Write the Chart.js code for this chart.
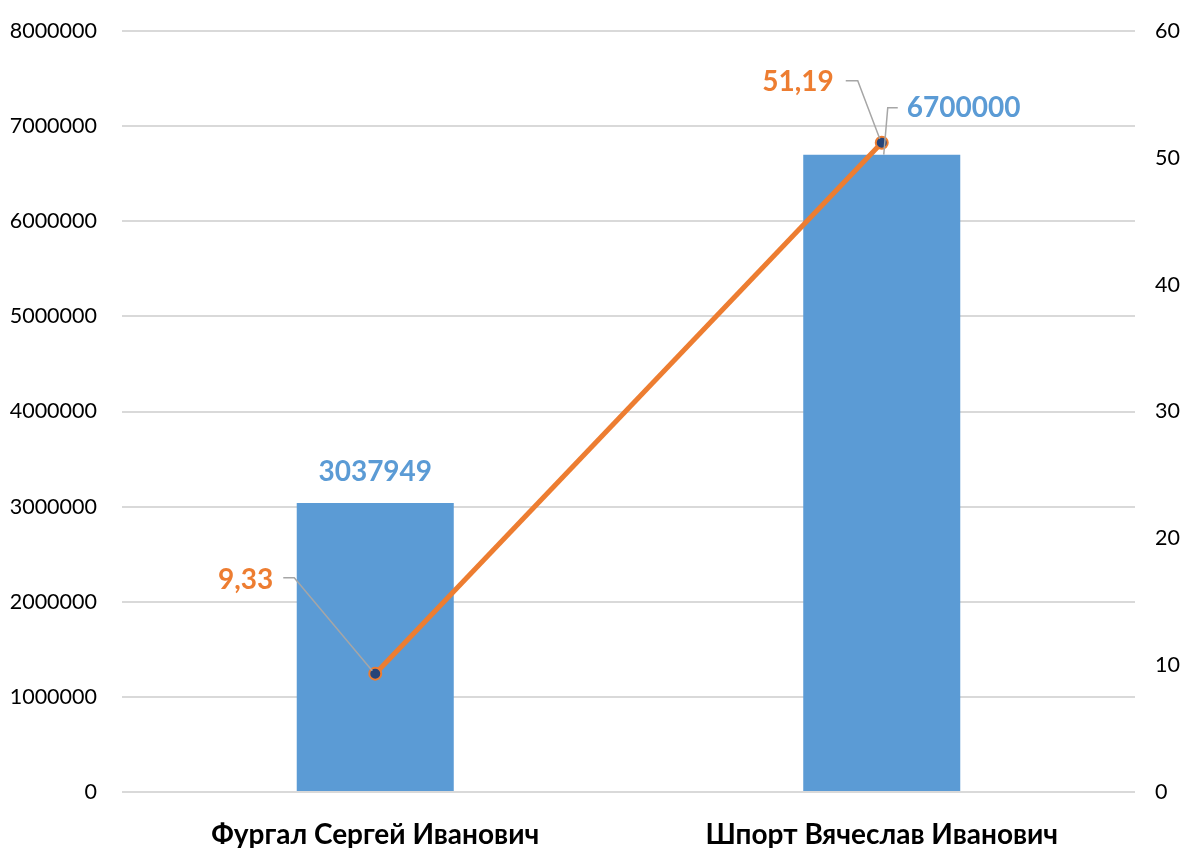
<!DOCTYPE html>
<html lang="ru">
<head>
  <meta charset="UTF-8">
  <title>Chart</title>
  <style>
    body { margin: 0; background: #fff; }
    .wrap { width: 1184px; height: 848px; }
  </style>
</head>
<body>
  <div class="wrap"><canvas id="chart" width="1184" height="848"></canvas></div>

  <script src="https://cdn.jsdelivr.net/npm/chart.js"></script>
  <script>
    // data
    const categories = ['Фургал Сергей Иванович', 'Шпорт Вячеслав Иванович'];
    const amounts = [3037949, 6700000];
    const percents = [9.33, 51.19];
    const percentLabels = ['9,33', '51,19'];

    const BLUE = '#5B9BD5';
    const ORANGE = '#ED7D31';
    const GRID = '#D9D9D9';
    const LEADER = '#A6A6A6';
    const FONT = 'Lato, "Open Sans", sans-serif';

    // label placement (offsets from the mark)
    const barLabelPos = [
      { dx: 0, dy: -31, align: 'center', leader: null },
      { dx: 25, dy: -47, align: 'left', leader: [[16, -47], [6, -47], [2, 0]] }
    ];
    const lineLabelPos = [
      { dx: -102, dy: -94, leader: [[-92, -96], [-81, -96], [-3, -3]] },
      { dx: -48, dy: -61, leader: [[-36, -62], [-24, -62], [-2, -4]] }
    ];

    const labelsPlugin = {
      id: 'labels',
      afterDatasetsDraw(chart) {
        const ctx = chart.ctx;
        ctx.save();
        ctx.font = 'bold 28px ' + FONT;
        ctx.textBaseline = 'middle';

        const bars = chart.getDatasetMeta(0).data;
        bars.forEach((bar, i) => {
          const p = barLabelPos[i];
          if (p.leader) {
            ctx.strokeStyle = LEADER;
            ctx.lineWidth = 1.5;
            ctx.beginPath();
            p.leader.forEach(([x, y], k) => {
              if (k === 0) ctx.moveTo(bar.x + x, bar.y + y);
              else ctx.lineTo(bar.x + x, bar.y + y);
            });
            ctx.stroke();
          }
          ctx.fillStyle = BLUE;
          ctx.textAlign = p.align;
          ctx.fillText(String(amounts[i]), bar.x + p.dx, bar.y + p.dy);
        });

        const pts = chart.getDatasetMeta(1).data;
        pts.forEach((pt, i) => {
          const p = lineLabelPos[i];
          ctx.strokeStyle = LEADER;
          ctx.lineWidth = 1.5;
          ctx.beginPath();
          p.leader.forEach(([x, y], k) => {
            if (k === 0) ctx.moveTo(pt.x + x, pt.y + y);
            else ctx.lineTo(pt.x + x, pt.y + y);
          });
          ctx.stroke();
          ctx.fillStyle = ORANGE;
          ctx.textAlign = 'right';
          ctx.fillText(percentLabels[i], pt.x + p.dx, pt.y + p.dy);
        });
        ctx.restore();
      }
    };

    // fixed axis sizes so the plot area lands where the original has it
    function fitY(width) {
      return s => {
        s.width = width;
        s.paddingTop = 0;
        s.paddingBottom = 0;
      };
    }

    new Chart(document.getElementById('chart'), {
      data: {
        labels: categories,
        datasets: [
          {
            type: 'bar',
            data: amounts,
            backgroundColor: BLUE,
            barPercentage: 0.31,
            categoryPercentage: 1,
            yAxisID: 'y',
            order: 1
          },
          {
            type: 'line',
            data: percents,
            borderColor: ORANGE,
            borderWidth: 5,
            pointRadius: 6,
            pointBackgroundColor: '#264478',
            pointBorderColor: ORANGE,
            pointBorderWidth: 2,
            yAxisID: 'y1',
            order: 0
          }
        ]
      },
      options: {
        responsive: false,
        animation: false,
        layout: { padding: { top: 31, left: 0, right: 0, bottom: 0 } },
        plugins: {
          legend: { display: false },
          tooltip: { enabled: false }
        },
        scales: {
          x: {
            grid: { display: false },
            border: { display: false },
            ticks: {
              color: '#000',
              font: { family: FONT, size: 28, weight: 'bold' },
              padding: 18
            },
            afterFit: s => { s.height = 56; }
          },
          y: {
            position: 'left',
            min: 0,
            max: 8000000,
            grid: { color: GRID, lineWidth: 2, drawTicks: false },
            border: { display: false },
            ticks: {
              stepSize: 1000000,
              color: '#000',
              font: { family: FONT, size: 21.5 },
              padding: 25,
              callback: v => String(v)
            },
            afterFit: fitY(122)
          },
          y1: {
            position: 'right',
            min: 0,
            max: 60,
            grid: { display: false, drawTicks: false },
            border: { display: false },
            ticks: {
              stepSize: 10,
              color: '#000',
              font: { family: FONT, size: 21.5 },
              padding: 20,
              callback: v => String(v)
            },
            afterFit: fitY(49)
          }
        }
      },
      plugins: [labelsPlugin]
    });
  </script>
</body>
</html>
